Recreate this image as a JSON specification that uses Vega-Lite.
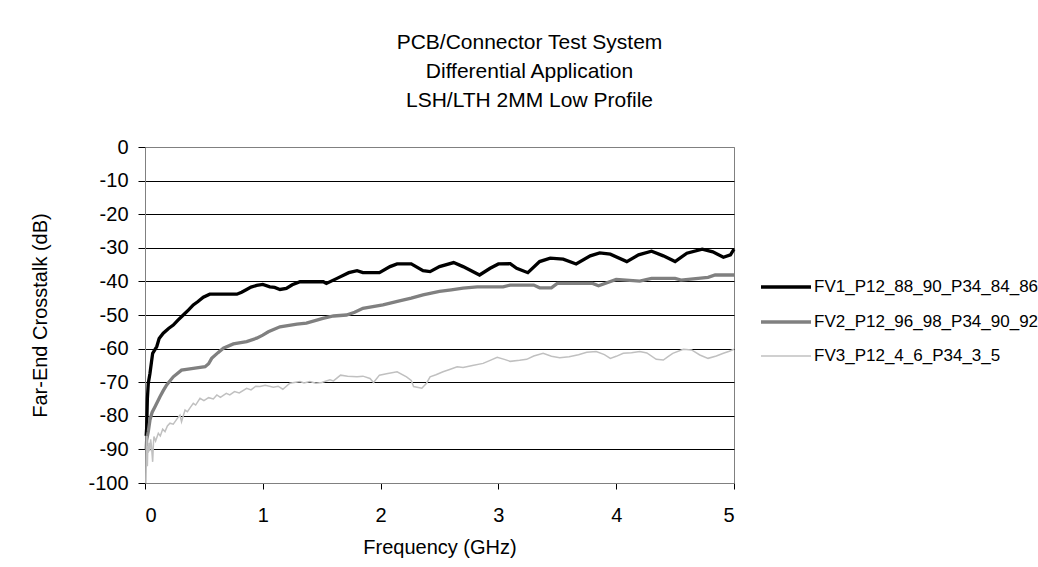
{
  "$schema": "https://vega.github.io/schema/vega-lite/v6.json",
  "autosize": {"type": "none"},
  "width": 589,
  "height": 336,
  "padding": {"left": 145, "top": 147, "right": 304, "bottom": 84},
  "background": "white",
  "title": {
    "text": ["PCB/Connector Test System", "Differential Application", "LSH/LTH 2MM Low  Profile"],
    "fontSize": 21,
    "font": "Liberation Sans",
    "fontWeight": "normal",
    "lineHeight": 29,
    "anchor": "middle",
    "frame": "group",
    "dx": 90,
    "offset": 26,
    "color": "#000000"
  },
  "data": {"values": [
    {"s":"FV1_P12_88_90_P34_84_86","f":0.01,"db":-86},{"s":"FV1_P12_88_90_P34_84_86","f":0.014,"db":-83.7},{"s":"FV1_P12_88_90_P34_84_86","f":0.02,"db":-75},{"s":"FV1_P12_88_90_P34_84_86","f":0.028,"db":-70.3},{"s":"FV1_P12_88_90_P34_84_86","f":0.042,"db":-67.4},{"s":"FV1_P12_88_90_P34_84_86","f":0.055,"db":-64},{"s":"FV1_P12_88_90_P34_84_86","f":0.065,"db":-61.4},{"s":"FV1_P12_88_90_P34_84_86","f":0.1,"db":-59.4},{"s":"FV1_P12_88_90_P34_84_86","f":0.12,"db":-57},{"s":"FV1_P12_88_90_P34_84_86","f":0.155,"db":-55.4},{"s":"FV1_P12_88_90_P34_84_86","f":0.2,"db":-54},{"s":"FV1_P12_88_90_P34_84_86","f":0.24,"db":-53},{"s":"FV1_P12_88_90_P34_84_86","f":0.28,"db":-51.5},{"s":"FV1_P12_88_90_P34_84_86","f":0.325,"db":-50},{"s":"FV1_P12_88_90_P34_84_86","f":0.37,"db":-48.5},{"s":"FV1_P12_88_90_P34_84_86","f":0.41,"db":-47},{"s":"FV1_P12_88_90_P34_84_86","f":0.45,"db":-46},{"s":"FV1_P12_88_90_P34_84_86","f":0.495,"db":-44.7},{"s":"FV1_P12_88_90_P34_84_86","f":0.55,"db":-43.8},{"s":"FV1_P12_88_90_P34_84_86","f":0.65,"db":-43.8},{"s":"FV1_P12_88_90_P34_84_86","f":0.78,"db":-43.8},{"s":"FV1_P12_88_90_P34_84_86","f":0.82,"db":-43.2},{"s":"FV1_P12_88_90_P34_84_86","f":0.863,"db":-42.4},{"s":"FV1_P12_88_90_P34_84_86","f":0.9,"db":-41.7},{"s":"FV1_P12_88_90_P34_84_86","f":0.948,"db":-41.2},{"s":"FV1_P12_88_90_P34_84_86","f":1.0,"db":-40.9},{"s":"FV1_P12_88_90_P34_84_86","f":1.06,"db":-41.6},{"s":"FV1_P12_88_90_P34_84_86","f":1.1,"db":-41.8},{"s":"FV1_P12_88_90_P34_84_86","f":1.146,"db":-42.4},{"s":"FV1_P12_88_90_P34_84_86","f":1.2,"db":-42.1},{"s":"FV1_P12_88_90_P34_84_86","f":1.25,"db":-41},{"s":"FV1_P12_88_90_P34_84_86","f":1.316,"db":-40.1},{"s":"FV1_P12_88_90_P34_84_86","f":1.4,"db":-40.1},{"s":"FV1_P12_88_90_P34_84_86","f":1.514,"db":-40.1},{"s":"FV1_P12_88_90_P34_84_86","f":1.54,"db":-40.6},{"s":"FV1_P12_88_90_P34_84_86","f":1.63,"db":-39.1},{"s":"FV1_P12_88_90_P34_84_86","f":1.73,"db":-37.4},{"s":"FV1_P12_88_90_P34_84_86","f":1.8,"db":-36.8},{"s":"FV1_P12_88_90_P34_84_86","f":1.85,"db":-37.4},{"s":"FV1_P12_88_90_P34_84_86","f":1.99,"db":-37.4},{"s":"FV1_P12_88_90_P34_84_86","f":2.08,"db":-35.6},{"s":"FV1_P12_88_90_P34_84_86","f":2.14,"db":-34.8},{"s":"FV1_P12_88_90_P34_84_86","f":2.26,"db":-34.8},{"s":"FV1_P12_88_90_P34_84_86","f":2.36,"db":-36.8},{"s":"FV1_P12_88_90_P34_84_86","f":2.42,"db":-37.1},{"s":"FV1_P12_88_90_P34_84_86","f":2.5,"db":-35.6},{"s":"FV1_P12_88_90_P34_84_86","f":2.62,"db":-34.4},{"s":"FV1_P12_88_90_P34_84_86","f":2.7,"db":-35.6},{"s":"FV1_P12_88_90_P34_84_86","f":2.84,"db":-38.1},{"s":"FV1_P12_88_90_P34_84_86","f":2.93,"db":-36.1},{"s":"FV1_P12_88_90_P34_84_86","f":3.0,"db":-34.8},{"s":"FV1_P12_88_90_P34_84_86","f":3.1,"db":-34.7},{"s":"FV1_P12_88_90_P34_84_86","f":3.155,"db":-36.1},{"s":"FV1_P12_88_90_P34_84_86","f":3.25,"db":-37.4},{"s":"FV1_P12_88_90_P34_84_86","f":3.35,"db":-34.1},{"s":"FV1_P12_88_90_P34_84_86","f":3.44,"db":-33.1},{"s":"FV1_P12_88_90_P34_84_86","f":3.55,"db":-33.4},{"s":"FV1_P12_88_90_P34_84_86","f":3.66,"db":-34.8},{"s":"FV1_P12_88_90_P34_84_86","f":3.78,"db":-32.4},{"s":"FV1_P12_88_90_P34_84_86","f":3.86,"db":-31.5},{"s":"FV1_P12_88_90_P34_84_86","f":3.95,"db":-31.9},{"s":"FV1_P12_88_90_P34_84_86","f":4.09,"db":-34.1},{"s":"FV1_P12_88_90_P34_84_86","f":4.19,"db":-32.1},{"s":"FV1_P12_88_90_P34_84_86","f":4.3,"db":-31.0},{"s":"FV1_P12_88_90_P34_84_86","f":4.4,"db":-32.4},{"s":"FV1_P12_88_90_P34_84_86","f":4.5,"db":-34.1},{"s":"FV1_P12_88_90_P34_84_86","f":4.6,"db":-31.6},{"s":"FV1_P12_88_90_P34_84_86","f":4.73,"db":-30.4},{"s":"FV1_P12_88_90_P34_84_86","f":4.82,"db":-31.2},{"s":"FV1_P12_88_90_P34_84_86","f":4.91,"db":-32.8},{"s":"FV1_P12_88_90_P34_84_86","f":4.97,"db":-32.1},{"s":"FV1_P12_88_90_P34_84_86","f":5.0,"db":-30.4},
    {"s":"FV2_P12_96_98_P34_90_92","f":0.01,"db":-90},{"s":"FV2_P12_96_98_P34_90_92","f":0.014,"db":-87.2},{"s":"FV2_P12_96_98_P34_90_92","f":0.028,"db":-84.7},{"s":"FV2_P12_96_98_P34_90_92","f":0.042,"db":-81.3},{"s":"FV2_P12_96_98_P34_90_92","f":0.06,"db":-79},{"s":"FV2_P12_96_98_P34_90_92","f":0.085,"db":-77.3},{"s":"FV2_P12_96_98_P34_90_92","f":0.127,"db":-74.3},{"s":"FV2_P12_96_98_P34_90_92","f":0.155,"db":-72.5},{"s":"FV2_P12_96_98_P34_90_92","f":0.184,"db":-70.8},{"s":"FV2_P12_96_98_P34_90_92","f":0.24,"db":-68.4},{"s":"FV2_P12_96_98_P34_90_92","f":0.31,"db":-66.4},{"s":"FV2_P12_96_98_P34_90_92","f":0.41,"db":-65.9},{"s":"FV2_P12_96_98_P34_90_92","f":0.51,"db":-65.4},{"s":"FV2_P12_96_98_P34_90_92","f":0.54,"db":-64.5},{"s":"FV2_P12_96_98_P34_90_92","f":0.566,"db":-62.9},{"s":"FV2_P12_96_98_P34_90_92","f":0.62,"db":-61.2},{"s":"FV2_P12_96_98_P34_90_92","f":0.665,"db":-59.9},{"s":"FV2_P12_96_98_P34_90_92","f":0.75,"db":-58.6},{"s":"FV2_P12_96_98_P34_90_92","f":0.863,"db":-57.9},{"s":"FV2_P12_96_98_P34_90_92","f":0.948,"db":-56.9},{"s":"FV2_P12_96_98_P34_90_92","f":1.0,"db":-56},{"s":"FV2_P12_96_98_P34_90_92","f":1.047,"db":-55},{"s":"FV2_P12_96_98_P34_90_92","f":1.146,"db":-53.5},{"s":"FV2_P12_96_98_P34_90_92","f":1.29,"db":-52.7},{"s":"FV2_P12_96_98_P34_90_92","f":1.37,"db":-52.4},{"s":"FV2_P12_96_98_P34_90_92","f":1.51,"db":-51},{"s":"FV2_P12_96_98_P34_90_92","f":1.6,"db":-50.3},{"s":"FV2_P12_96_98_P34_90_92","f":1.71,"db":-50},{"s":"FV2_P12_96_98_P34_90_92","f":1.78,"db":-49.2},{"s":"FV2_P12_96_98_P34_90_92","f":1.85,"db":-48},{"s":"FV2_P12_96_98_P34_90_92","f":2.02,"db":-47},{"s":"FV2_P12_96_98_P34_90_92","f":2.16,"db":-45.8},{"s":"FV2_P12_96_98_P34_90_92","f":2.26,"db":-45},{"s":"FV2_P12_96_98_P34_90_92","f":2.36,"db":-44},{"s":"FV2_P12_96_98_P34_90_92","f":2.5,"db":-43},{"s":"FV2_P12_96_98_P34_90_92","f":2.6,"db":-42.5},{"s":"FV2_P12_96_98_P34_90_92","f":2.7,"db":-42},{"s":"FV2_P12_96_98_P34_90_92","f":2.82,"db":-41.6},{"s":"FV2_P12_96_98_P34_90_92","f":3.04,"db":-41.6},{"s":"FV2_P12_96_98_P34_90_92","f":3.1,"db":-41.1},{"s":"FV2_P12_96_98_P34_90_92","f":3.3,"db":-41.1},{"s":"FV2_P12_96_98_P34_90_92","f":3.35,"db":-41.9},{"s":"FV2_P12_96_98_P34_90_92","f":3.45,"db":-41.9},{"s":"FV2_P12_96_98_P34_90_92","f":3.5,"db":-40.6},{"s":"FV2_P12_96_98_P34_90_92","f":3.8,"db":-40.6},{"s":"FV2_P12_96_98_P34_90_92","f":3.85,"db":-41.3},{"s":"FV2_P12_96_98_P34_90_92","f":4.0,"db":-39.4},{"s":"FV2_P12_96_98_P34_90_92","f":4.2,"db":-39.9},{"s":"FV2_P12_96_98_P34_90_92","f":4.3,"db":-39.1},{"s":"FV2_P12_96_98_P34_90_92","f":4.5,"db":-39.1},{"s":"FV2_P12_96_98_P34_90_92","f":4.55,"db":-39.6},{"s":"FV2_P12_96_98_P34_90_92","f":4.78,"db":-38.8},{"s":"FV2_P12_96_98_P34_90_92","f":4.84,"db":-38.1},{"s":"FV2_P12_96_98_P34_90_92","f":5.0,"db":-38.1},
    {"s":"FV3_P12_4_6_P34_3_5","f":0.008,"db":-100},{"s":"FV3_P12_4_6_P34_3_5","f":0.012,"db":-92},{"s":"FV3_P12_4_6_P34_3_5","f":0.016,"db":-86},{"s":"FV3_P12_4_6_P34_3_5","f":0.02,"db":-95},{"s":"FV3_P12_4_6_P34_3_5","f":0.024,"db":-89},{"s":"FV3_P12_4_6_P34_3_5","f":0.028,"db":-91},{"s":"FV3_P12_4_6_P34_3_5","f":0.034,"db":-88},{"s":"FV3_P12_4_6_P34_3_5","f":0.04,"db":-90.5},{"s":"FV3_P12_4_6_P34_3_5","f":0.048,"db":-87},{"s":"FV3_P12_4_6_P34_3_5","f":0.055,"db":-89},{"s":"FV3_P12_4_6_P34_3_5","f":0.065,"db":-93.7},{"s":"FV3_P12_4_6_P34_3_5","f":0.072,"db":-88},{"s":"FV3_P12_4_6_P34_3_5","f":0.076,"db":-86.2},{"s":"FV3_P12_4_6_P34_3_5","f":0.09,"db":-87.5},{"s":"FV3_P12_4_6_P34_3_5","f":0.113,"db":-85.2},{"s":"FV3_P12_4_6_P34_3_5","f":0.13,"db":-86},{"s":"FV3_P12_4_6_P34_3_5","f":0.15,"db":-84},{"s":"FV3_P12_4_6_P34_3_5","f":0.17,"db":-84.7},{"s":"FV3_P12_4_6_P34_3_5","f":0.19,"db":-83},{"s":"FV3_P12_4_6_P34_3_5","f":0.212,"db":-82.2},{"s":"FV3_P12_4_6_P34_3_5","f":0.24,"db":-82.5},{"s":"FV3_P12_4_6_P34_3_5","f":0.27,"db":-81},{"s":"FV3_P12_4_6_P34_3_5","f":0.297,"db":-79.8},{"s":"FV3_P12_4_6_P34_3_5","f":0.31,"db":-81.8},{"s":"FV3_P12_4_6_P34_3_5","f":0.325,"db":-80},{"s":"FV3_P12_4_6_P34_3_5","f":0.34,"db":-78.3},{"s":"FV3_P12_4_6_P34_3_5","f":0.36,"db":-78.8},{"s":"FV3_P12_4_6_P34_3_5","f":0.385,"db":-77.5},{"s":"FV3_P12_4_6_P34_3_5","f":0.41,"db":-76.3},{"s":"FV3_P12_4_6_P34_3_5","f":0.43,"db":-76.8},{"s":"FV3_P12_4_6_P34_3_5","f":0.467,"db":-74.8},{"s":"FV3_P12_4_6_P34_3_5","f":0.5,"db":-75.5},{"s":"FV3_P12_4_6_P34_3_5","f":0.54,"db":-74.6},{"s":"FV3_P12_4_6_P34_3_5","f":0.58,"db":-75},{"s":"FV3_P12_4_6_P34_3_5","f":0.61,"db":-73.8},{"s":"FV3_P12_4_6_P34_3_5","f":0.64,"db":-74.5},{"s":"FV3_P12_4_6_P34_3_5","f":0.69,"db":-73.3},{"s":"FV3_P12_4_6_P34_3_5","f":0.72,"db":-73.8},{"s":"FV3_P12_4_6_P34_3_5","f":0.76,"db":-72.8},{"s":"FV3_P12_4_6_P34_3_5","f":0.8,"db":-73.2},{"s":"FV3_P12_4_6_P34_3_5","f":0.863,"db":-71.8},{"s":"FV3_P12_4_6_P34_3_5","f":0.9,"db":-72.3},{"s":"FV3_P12_4_6_P34_3_5","f":0.94,"db":-71.2},{"s":"FV3_P12_4_6_P34_3_5","f":0.976,"db":-71.3},{"s":"FV3_P12_4_6_P34_3_5","f":1.02,"db":-70.9},{"s":"FV3_P12_4_6_P34_3_5","f":1.09,"db":-71.5},{"s":"FV3_P12_4_6_P34_3_5","f":1.13,"db":-71.2},{"s":"FV3_P12_4_6_P34_3_5","f":1.17,"db":-72.1},{"s":"FV3_P12_4_6_P34_3_5","f":1.23,"db":-70.3},{"s":"FV3_P12_4_6_P34_3_5","f":1.316,"db":-69.8},{"s":"FV3_P12_4_6_P34_3_5","f":1.35,"db":-70.2},{"s":"FV3_P12_4_6_P34_3_5","f":1.4,"db":-69.8},{"s":"FV3_P12_4_6_P34_3_5","f":1.45,"db":-70.3},{"s":"FV3_P12_4_6_P34_3_5","f":1.5,"db":-70.1},{"s":"FV3_P12_4_6_P34_3_5","f":1.57,"db":-69.3},{"s":"FV3_P12_4_6_P34_3_5","f":1.6,"db":-69.6},{"s":"FV3_P12_4_6_P34_3_5","f":1.66,"db":-67.9},{"s":"FV3_P12_4_6_P34_3_5","f":1.72,"db":-68.2},{"s":"FV3_P12_4_6_P34_3_5","f":1.8,"db":-68.4},{"s":"FV3_P12_4_6_P34_3_5","f":1.85,"db":-68.2},{"s":"FV3_P12_4_6_P34_3_5","f":1.91,"db":-68.9},{"s":"FV3_P12_4_6_P34_3_5","f":1.94,"db":-70.1},{"s":"FV3_P12_4_6_P34_3_5","f":1.99,"db":-67.9},{"s":"FV3_P12_4_6_P34_3_5","f":2.05,"db":-67.5},{"s":"FV3_P12_4_6_P34_3_5","f":2.14,"db":-66.9},{"s":"FV3_P12_4_6_P34_3_5","f":2.22,"db":-68.4},{"s":"FV3_P12_4_6_P34_3_5","f":2.26,"db":-69.5},{"s":"FV3_P12_4_6_P34_3_5","f":2.28,"db":-71.3},{"s":"FV3_P12_4_6_P34_3_5","f":2.35,"db":-71.8},{"s":"FV3_P12_4_6_P34_3_5","f":2.39,"db":-70.3},{"s":"FV3_P12_4_6_P34_3_5","f":2.42,"db":-68.4},{"s":"FV3_P12_4_6_P34_3_5","f":2.47,"db":-67.8},{"s":"FV3_P12_4_6_P34_3_5","f":2.53,"db":-66.9},{"s":"FV3_P12_4_6_P34_3_5","f":2.58,"db":-66.3},{"s":"FV3_P12_4_6_P34_3_5","f":2.65,"db":-65.4},{"s":"FV3_P12_4_6_P34_3_5","f":2.7,"db":-65.6},{"s":"FV3_P12_4_6_P34_3_5","f":2.78,"db":-65},{"s":"FV3_P12_4_6_P34_3_5","f":2.87,"db":-64.4},{"s":"FV3_P12_4_6_P34_3_5","f":2.93,"db":-63.5},{"s":"FV3_P12_4_6_P34_3_5","f":2.99,"db":-62.6},{"s":"FV3_P12_4_6_P34_3_5","f":3.05,"db":-63.2},{"s":"FV3_P12_4_6_P34_3_5","f":3.1,"db":-63.8},{"s":"FV3_P12_4_6_P34_3_5","f":3.18,"db":-63.5},{"s":"FV3_P12_4_6_P34_3_5","f":3.24,"db":-63.2},{"s":"FV3_P12_4_6_P34_3_5","f":3.3,"db":-62.2},{"s":"FV3_P12_4_6_P34_3_5","f":3.38,"db":-61.4},{"s":"FV3_P12_4_6_P34_3_5","f":3.45,"db":-62.3},{"s":"FV3_P12_4_6_P34_3_5","f":3.52,"db":-62.7},{"s":"FV3_P12_4_6_P34_3_5","f":3.6,"db":-62.4},{"s":"FV3_P12_4_6_P34_3_5","f":3.68,"db":-61.8},{"s":"FV3_P12_4_6_P34_3_5","f":3.75,"db":-61.1},{"s":"FV3_P12_4_6_P34_3_5","f":3.83,"db":-60.9},{"s":"FV3_P12_4_6_P34_3_5","f":3.9,"db":-61.8},{"s":"FV3_P12_4_6_P34_3_5","f":3.95,"db":-62.9},{"s":"FV3_P12_4_6_P34_3_5","f":4.0,"db":-62.3},{"s":"FV3_P12_4_6_P34_3_5","f":4.06,"db":-61.4},{"s":"FV3_P12_4_6_P34_3_5","f":4.13,"db":-61.2},{"s":"FV3_P12_4_6_P34_3_5","f":4.2,"db":-60.9},{"s":"FV3_P12_4_6_P34_3_5","f":4.26,"db":-61.3},{"s":"FV3_P12_4_6_P34_3_5","f":4.34,"db":-63.2},{"s":"FV3_P12_4_6_P34_3_5","f":4.4,"db":-63.4},{"s":"FV3_P12_4_6_P34_3_5","f":4.44,"db":-62.4},{"s":"FV3_P12_4_6_P34_3_5","f":4.48,"db":-61.4},{"s":"FV3_P12_4_6_P34_3_5","f":4.57,"db":-60.2},{"s":"FV3_P12_4_6_P34_3_5","f":4.64,"db":-60.4},{"s":"FV3_P12_4_6_P34_3_5","f":4.71,"db":-61.9},{"s":"FV3_P12_4_6_P34_3_5","f":4.78,"db":-62.9},{"s":"FV3_P12_4_6_P34_3_5","f":4.85,"db":-62.2},{"s":"FV3_P12_4_6_P34_3_5","f":4.91,"db":-61.4},{"s":"FV3_P12_4_6_P34_3_5","f":4.96,"db":-60.8},{"s":"FV3_P12_4_6_P34_3_5","f":5.0,"db":-60.2}
  ]},
  "mark": {"type": "line", "interpolate": "linear", "strokeJoin": "miter", "strokeCap": "butt"},
  "encoding": {
    "x": {
      "field": "f", "type": "quantitative",
      "scale": {"domain": [0, 5], "nice": false, "zero": false},
      "axis": {
        "values": [0, 1, 2, 3, 4, 5], "labelExpr": "toString(datum.value)", "grid": false,
        "title": "Frequency (GHz)", "titlePadding": 12,
        "labelPadding": 16, "tickSize": 6
      }
    },
    "y": {
      "field": "db", "type": "quantitative",
      "scale": {"domain": [-100, 0], "nice": false, "zero": false},
      "axis": {
        "values": [0, -10, -20, -30, -40, -50, -60, -70, -80, -90, -100], "labelExpr": "toString(datum.value)",
        "grid": true,
        "gridColor": {"condition": {"test": "datum.value === 0 || datum.value === -100", "value": "#808080"}, "value": "#000000"},
        "title": "Far-End Crosstalk (dB)", "titlePadding": 37,
        "labelPadding": 10, "tickSize": 7
      }
    },
    "color": {
      "field": "s", "type": "nominal",
      "scale": {"domain": ["FV1_P12_88_90_P34_84_86", "FV2_P12_96_98_P34_90_92", "FV3_P12_4_6_P34_3_5"], "range": ["#000000", "#808080", "#c0c0c0"]},
      "legend": {"title": null}
    },
    "strokeWidth": {
      "field": "s", "type": "nominal",
      "scale": {"type": "ordinal", "domain": ["FV1_P12_88_90_P34_84_86", "FV2_P12_96_98_P34_90_92", "FV3_P12_4_6_P34_3_5"], "range": [3.3, 3.3, 1.5]},
      "legend": {"title": null}
    },
    "order": {"field": "f", "type": "quantitative"}
  },
  "config": {
    "font": "Liberation Sans",
    "view": {"stroke": "#808080", "strokeWidth": 1},
    "axis": {
      "labelFont": "Liberation Sans", "titleFont": "Liberation Sans",
      "labelFontSize": 20, "titleFontSize": 20, "titleFontWeight": "normal",
      "labelColor": "#000000", "titleColor": "#000000",
      "domainColor": "#808080", "tickColor": "#000000", "gridWidth": 1, "gridOpacity": 1
    },
    "legend": {
      "orient": "none", "legendX": 614, "legendY": 113,
      "symbolType": "stroke", "symbolSize": 2500,
      "labelFont": "Liberation Sans", "labelFontSize": 17, "labelColor": "#000000",
      "labelLimit": 400, "labelOffset": 1, "rowPadding": -22.5, "padding": 0
    }
  }
}
